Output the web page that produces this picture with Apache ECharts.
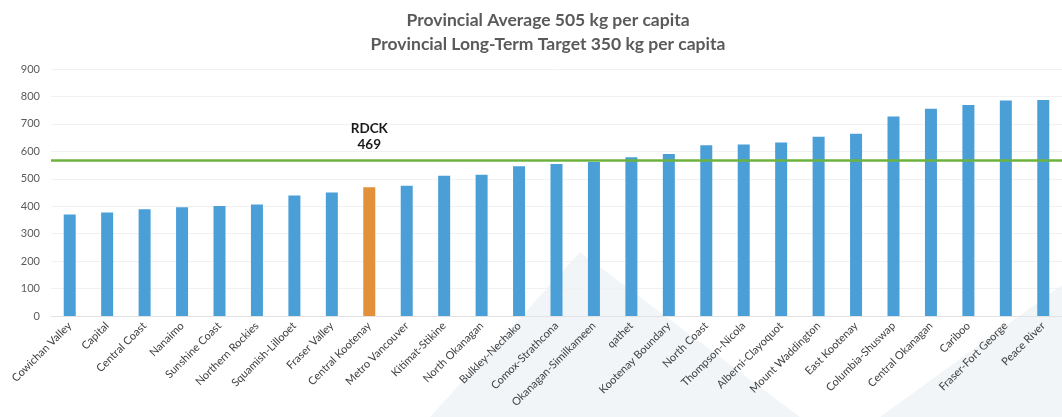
<!DOCTYPE html>
<html>
<head>
<meta charset="utf-8">
<style>
  html, body { margin: 0; padding: 0; background: #ffffff; }
  #chart { width: 1062px; height: 417px; }
</style>
<script src="https://cdn.jsdelivr.net/npm/echarts@6/dist/echarts.min.js"></script>
</head>
<body>
<div id="chart"></div>
<script>
// Regional districts, sorted by kg of waste disposed per capita
const regions = [
  'Cowichan Valley', 'Capital', 'Central Coast', 'Nanaimo', 'Sunshine Coast',
  'Northern Rockies', 'Squamish-Lillooet', 'Fraser Valley', 'Central Kootenay',
  'Metro Vancouver', 'Kitimat-Stikine', 'North Okanagan', 'Bulkley-Nechako',
  'Comox-Strathcona', 'Okanagan-Similkameen', 'qathet', 'Kootenay Boundary',
  'North Coast', 'Thompson-Nicola', 'Alberni-Clayoquot', 'Mount Waddington',
  'East Kootenay', 'Columbia-Shuswap', 'Central Okanagan', 'Cariboo',
  'Fraser-Fort George', 'Peace River'
];
const kgPerCapita = [
  370, 377, 389, 396, 401, 406, 439, 450, 469,
  475, 511, 515, 546, 554, 561, 578, 590,
  622, 625, 632, 653, 664, 727, 755, 769,
  785, 787
];
const highlightRegion = 'Central Kootenay';
const highlightTag = 'RDCK';
const referenceLevel = 567;
const titleLines = [
  'Provincial Average 505 kg per capita',
  'Provincial Long-Term Target 350 kg per capita'
];

const BLUE = '#4a9fd6';
const ORANGE = '#e2913a';
const GREEN = '#6cb33e';

const seriesData = kgPerCapita.map((v, i) => {
  if (regions[i] !== highlightRegion) return v;
  return {
    value: v,
    itemStyle: { color: ORANGE },
    label: {
      show: true,
      position: 'top',
      distance: 35,
      formatter: highlightTag + '\n{c}',
      fontFamily: 'Lato',
      fontWeight: 'bold',
      fontSize: 13.5,
      lineHeight: 16,
      color: '#1a1a1a'
    }
  };
});

const chart = echarts.init(document.getElementById('chart'), null, { renderer: 'canvas' });

chart.setOption({
  backgroundColor: '#ffffff',
  animation: false,
  title: {
    text: titleLines.join('\n'),
    left: 543,
    top: 3,
    textAlign: 'center',
    textStyle: {
      fontFamily: 'Lato',
      fontWeight: 'bold',
      fontSize: 17.5,
      lineHeight: 24,
      color: '#5a5a5a'
    }
  },
  // faint mountain backdrop behind the lower part of the chart
  graphic: [
    {
      type: 'polygon',
      z: -10,
      silent: true,
      shape: { points: [[430, 417], [580, 252], [800, 417]] },
      style: { fill: 'rgba(200, 214, 228, 0.25)' }
    },
    {
      type: 'polygon',
      z: -10,
      silent: true,
      shape: { points: [[880, 417], [1062, 285], [1062, 417]] },
      style: { fill: 'rgba(200, 214, 228, 0.25)' }
    }
  ],
  grid: { left: 51, top: 69, width: 1020, height: 247 },
  xAxis: {
    type: 'category',
    data: regions,
    axisLine: { show: true, lineStyle: { color: '#e2e2e2' } },
    axisTick: { show: false },
    axisLabel: {
      rotate: 45,
      interval: 0,
      margin: 8,
      fontFamily: 'Lato',
      fontSize: 11,
      color: '#404040'
    }
  },
  yAxis: {
    type: 'value',
    min: 0,
    max: 900,
    interval: 100,
    axisLine: { show: false },
    axisTick: { show: false },
    axisLabel: {
      margin: 11,
      fontFamily: 'Lato',
      fontSize: 11,
      color: '#5a5a5a'
    },
    splitLine: { lineStyle: { color: '#f1f1f1', width: 1 } }
  },
  series: [
    {
      type: 'bar',
      data: seriesData,
      barWidth: 12,
      itemStyle: { color: BLUE },
      markLine: {
        silent: true,
        symbol: ['none', 'none'],
        label: { show: false },
        lineStyle: { color: GREEN, width: 2.5, type: 'solid' },
        data: [{ yAxis: referenceLevel }]
      }
    }
  ]
});
</script>
</body>
</html>
